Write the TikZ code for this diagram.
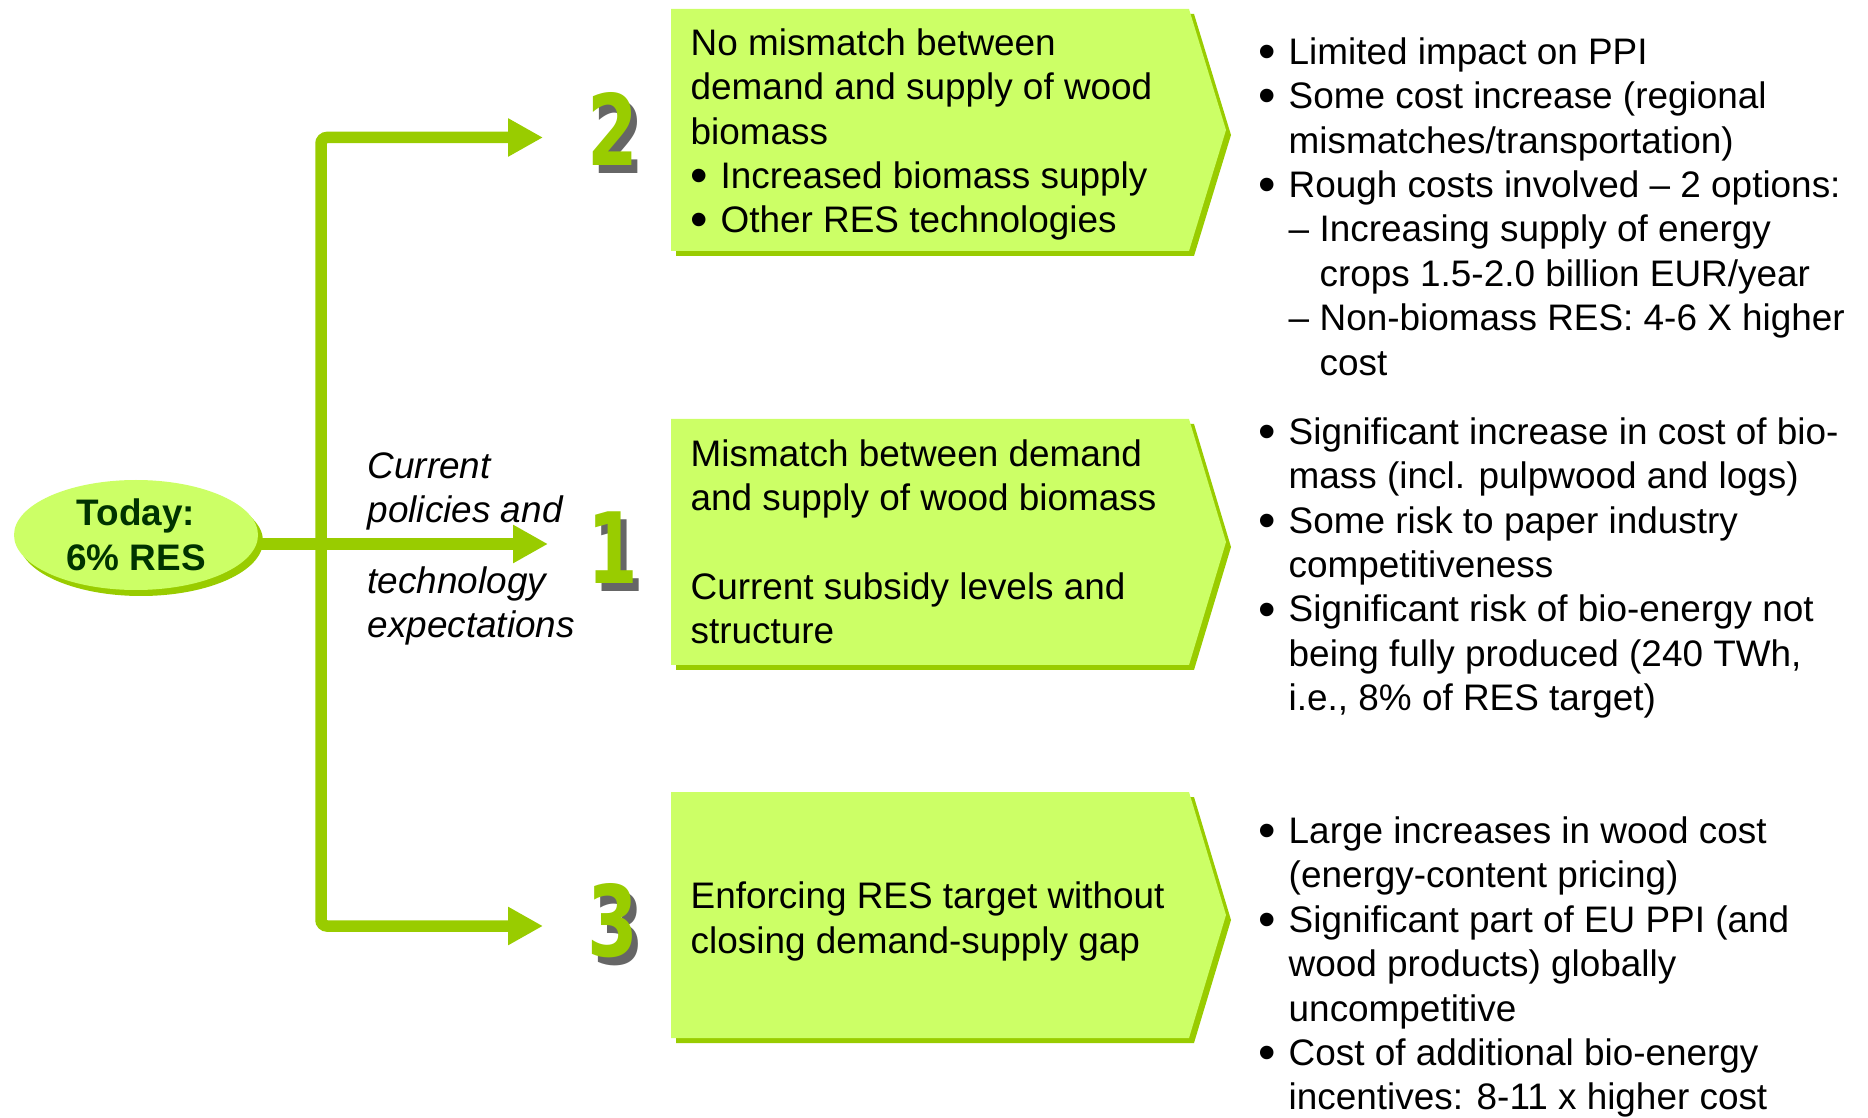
\documentclass[tikz,border=0pt]{standalone}
\usepackage{fontspec}
\usepackage{graphicx}
\setmainfont{Liberation Sans}
\newfontfamily\rankfamily{DejaVu Sans}
\usetikzlibrary{arrows.meta,shapes.geometric,shadows}
\definecolor{leaflight}{HTML}{CCFF66}
\definecolor{leafdark}{HTML}{99CC00}
\definecolor{todaytext}{HTML}{003300}
\newcommand{\labelfont}{\fontsize{10.5pt}{12.63pt}\selectfont}
\newcommand{\digitfont}{\rankfamily\fontsize{28pt}{28pt}\selectfont\bfseries}
\newcommand{\bul}{\makebox[3mm][l]{\raisebox{-0.11em}{\scalebox{1.35}{\textbullet}}}}
\newcommand{\hang}{\hspace*{3mm}}
\newcommand{\subdash}{\hspace*{3mm}\makebox[3.1mm][l]{–}}
\newcommand{\subhang}{\hspace*{6.1mm}}
\begin{document}
\begin{tikzpicture}[
  flow/.style={leafdark, line width=1.15mm, rounded corners=0.6mm, -{Triangle[length=3.5mm,width=3.6mm]}},
  stagefill/.style={fill=leaflight},
  stageshade/.style={fill=leafdark},
  stagetext/.style={anchor=west, align=left, inner sep=0pt, font=\labelfont},
  outcome/.style={anchor=north west, align=left, inner sep=0pt, font=\labelfont},
  policy/.style={anchor=north west, align=left, inner sep=0pt, font=\labelfont\itshape},
  rank/.style={anchor=base, inner sep=0pt, font=\digitfont, text=leafdark},
  rankshade/.style={anchor=base, inner sep=0pt, font=\digitfont, text=black!60},
  today/.style={ellipse, fill=leaflight, minimum width=2.44cm, minimum height=1.10cm, inner sep=0pt, align=center, font=\labelfont\bfseries, text=todaytext, drop shadow={shadow xshift=0.5mm, shadow yshift=-0.6mm, fill=leafdark, opacity=1}}
]
\useasboundingbox (0,0) rectangle (18.68,-11.18);

% starting point
\node[today] (now) at (1.36,-5.35) {Today:\\6\% RES};

% the three paths
\coordinate (fork) at (3.21,-5.44);
\coordinate (to2) at (5.43,-1.375);
\coordinate (to1) at (5.48,-5.44);
\coordinate (to3) at (5.43,-9.26);
\draw[flow] (fork) |- (to2);
\draw[flow] (fork) |- (to3);
\draw[flow] (now.east |- fork) -- (to1);

\node[policy] (pol1) at (3.67,-4.52) {Current\\policies and};
\node[policy] (pol2) at (3.67,-5.66) {technology\\expectations};

% scenario numbers
\node[rankshade] (r2s) at (6.19,-1.74) {\scalebox{0.74}[1]{2}};
\node[rank] (r2) at (6.13,-1.66) {\scalebox{0.74}[1]{2}};
\node[rankshade] (r1s) at (6.19,-5.92) {\scalebox{0.74}[1]{1}};
\node[rank] (r1) at (6.13,-5.84) {\scalebox{0.74}[1]{1}};
\node[rankshade] (r3s) at (6.19,-9.64) {\scalebox{0.74}[1]{3}};
\node[rank] (r3) at (6.13,-9.56) {\scalebox{0.74}[1]{3}};

% scenario boxes
\foreach \ytop/\hgt in {0.09/2.42, 4.19/2.46, 7.92/2.46} {
  \fill[stageshade] (6.76,-\ytop-0.05) -- ++(5.18,0) -- ++(0.37,-\hgt/2) -- ++(-0.37,-\hgt/2) -- ++(-5.18,0) -- cycle;
  \fill[stagefill] (6.71,-\ytop) -- ++(5.18,0) -- ++(0.37,-\hgt/2) -- ++(-0.37,-\hgt/2) -- ++(-5.18,0) -- cycle;
}
\node[stagetext] (s2) at (6.90,-1.345) {No mismatch between\\demand and supply of wood\\biomass\\\bul Increased biomass supply\\\bul Other RES technologies};
\node[stagetext] (s1) at (6.90,-5.42) {Mismatch between demand\\and supply of wood biomass\\\mbox{}\\Current subsidy levels and\\structure};
\node[stagetext] (s3) at (6.90,-9.215) {Enforcing RES target without\\closing demand-supply gap};

% consequences
\node[outcome] (o2) at (12.58,-0.37) {\bul Limited impact on PPI\\
\bul Some cost increase (regional\\
\hang mismatches/transportation)\\
\bul Rough costs involved – 2 options:\\
\subdash Increasing supply of energy\\
\subhang crops 1.5-2.0 billion EUR/year\\
\subdash Non-biomass RES: 4-6 X higher\\
\subhang cost};
\node[outcome] (o1) at (12.58,-4.17) {\bul Significant increase in cost of bio-\\
\hang mass (incl. pulpwood and logs)\\
\bul Some risk to paper industry\\
\hang competitiveness\\
\bul Significant risk of bio-energy not\\
\hang being fully produced (240 TWh,\\
\hang i.e., 8\% of RES target)};
\node[outcome] (o3) at (12.58,-8.16) {\bul Large increases in wood cost\\
\hang (energy-content pricing)\\
\bul Significant part of EU PPI (and\\
\hang wood products) globally\\
\hang uncompetitive\\
\bul Cost of additional bio-energy\\
\hang incentives: 8-11 x higher cost};
\end{tikzpicture}
\end{document}
